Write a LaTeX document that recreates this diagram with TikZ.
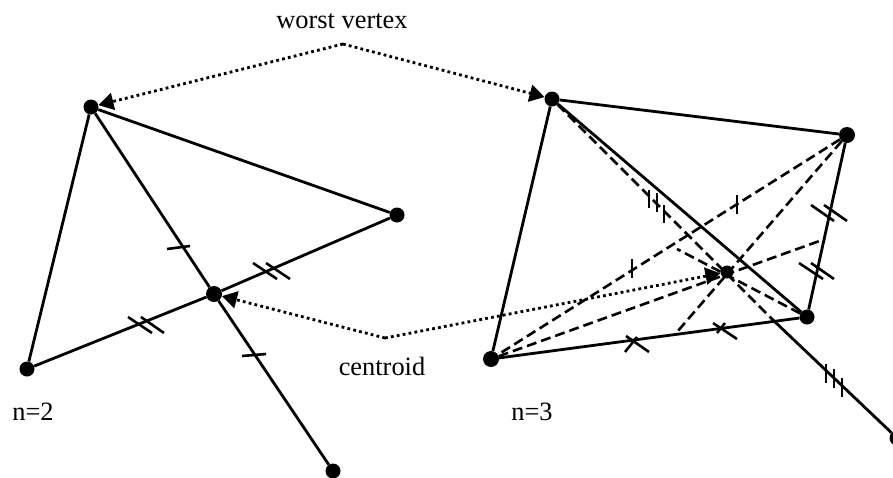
\documentclass[tikz,border=0pt]{standalone}
\usepackage{fontspec}
\setmainfont{Liberation Serif}
\usetikzlibrary{arrows.meta}

\begin{document}
\begin{tikzpicture}[
  x=1pt, y=-1pt,
  pt/.style={circle, fill=black, inner sep=0pt, minimum size=15pt},
  cen/.style={pt, minimum size=13pt},
  lab/.style={font=\fontsize{26.4}{30}\selectfont, inner sep=0pt},
  edge/.style={line width=2.8pt, draw=black},
  med/.style={line width=2.6pt, draw=black, dash pattern=on 10pt off 5pt},
  hint/.style={-{Triangle[length=15pt,width=17pt]}, line width=2.8pt, draw=black,
               dash pattern=on 2.8pt off 3.2pt},
  tick/.style={line width=2.6pt, draw=black},
]
\useasboundingbox (0,0) rectangle (893,477);

% ---------------- n=2 ----------------
\node[pt]  (a2) at (91,107)  {};
\node[pt]  (b2) at (397,215) {};
\node[pt]  (c2) at (27,369)  {};
\node[pt, minimum size=16pt]  (g2) at (214,294) {};
\node[pt]  (r2) at (333,471) {};

\draw[edge] (a2) -- (b2);
\draw[edge] (a2) -- (c2);
\draw[edge] (a2) -- (g2);
\draw[edge] (g2) -- (r2);
\draw[edge] (b2) -- (g2);
\draw[edge] (g2) -- (c2);

\draw[tick] (167,249) -- (190,246);
\draw[tick] (242,356) -- (266,354);
\draw[tick] (253,263) -- (277,279);
\draw[tick] (266,263) -- (290,279);
\draw[tick] (128,317) -- (152,333);
\draw[tick] (141,317) -- (164,333);

% ---------------- n=3 ----------------
\node[pt]  (a3) at (552,99)  {};
\node[pt, minimum size=16pt]  (b3) at (847,135) {};
\node[pt]  (c3) at (807,317) {};
\node[pt, minimum size=16pt]  (d3) at (491,359) {};
\node[cen] (g3) at (727,272) {};
\node[pt]  (r3) at (897,438) {};

\coordinate (fa) at (773,320);
\coordinate (fb) at (677,332);
\coordinate (fc) at (677,249);
\coordinate (fd) at (825,239);

\draw[edge] (a3) -- (b3);
\draw[edge] (b3) -- (c3);
\draw[edge] (c3) -- (d3);
\draw[edge] (d3) -- (a3);
\draw[edge] (a3) -- (c3);
\draw[edge] (fa) -- (r3);

\draw[med] (a3) -- (fa);
\draw[med] (b3) -- (d3);
\draw[med] (b3) -- (fb);
\draw[med] (c3) -- (fc);
\draw[med] (d3) -- (fd);

\draw[tick] (649,190) -- (649,208);
\draw[tick] (657,193) -- (657,212);
\draw[tick] (664,205) -- (664,223);
\draw[tick] (737,195) -- (737,214);
\draw[tick] (632,259) -- (632,278);
\draw[tick] (826,364) -- (826,383);
\draw[tick] (834,369) -- (834,388);
\draw[tick] (842,378) -- (842,397);
\draw[tick] (811,205) -- (834,221);
\draw[tick] (824,205) -- (847,221);
\draw[tick] (799,263) -- (823,279);
\draw[tick] (811,263) -- (834,279);
\draw[tick] (626,336) -- (649,352);
\draw[tick] (625,352) -- (637,337);
\draw[tick] (713,323) -- (737,339);
\draw[tick] (725,323) -- (717,333);

% ---------------- labels ----------------
\coordinate (wv) at (343,44);
\coordinate (cn) at (385,338);

\draw[hint] (wv) -- (a2);
\draw[hint] (wv) -- (a3);
\draw[hint] (cn) -- (g2);
\draw[hint] (cn) -- (g3);

\node[lab] (worst) at (342,21)  {worst vertex};
\node[lab] (centr) at (382,366) {centroid};
\node[lab] (n2)    at (33,412)  {n=2};
\node[lab] (n3)    at (532,412) {n=3};

\end{tikzpicture}
\end{document}
